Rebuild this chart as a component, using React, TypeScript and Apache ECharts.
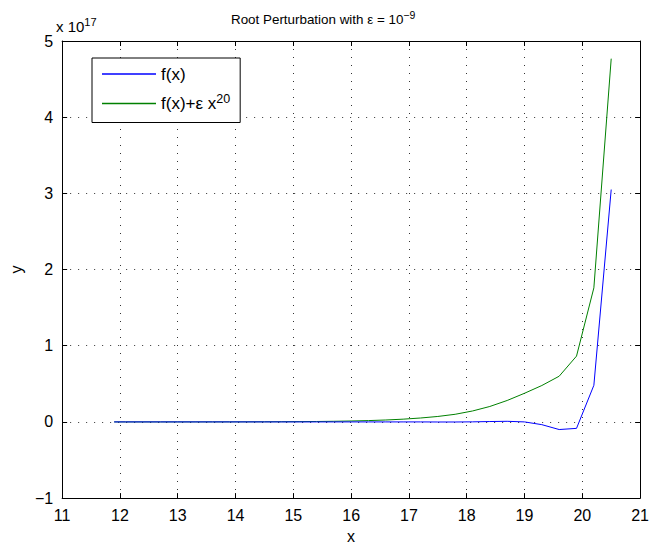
import React, { useEffect, useRef } from "react";
import * as echarts from "echarts";

// x sample points
const xValues = [
  11.9, 12.1, 12.4, 12.7, 13.0, 13.3, 13.6, 13.9, 14.2, 14.5, 14.8, 15.1, 15.4,
  15.7, 16.0, 16.3, 16.6, 16.9, 17.2, 17.5, 17.8, 18.1, 18.4, 18.7, 19.0, 19.3,
  19.6, 19.9, 20.2, 20.5,
];
// f(x), in units of 10^17
const fValues = [
  0, 0, 0, 0, 0, 0, 0, 0, 0, 0, 0, 0, 0, 0, 0, 0, 0, 0, 0, -0.0009, -0.0009,
  0.0009, 0.0049, 0.008, 0, -0.036, -0.1, -0.0846, 0.4805, 3.0502,
];
// f(x) + eps x^20, in units of 10^17
const perturbedValues = [
  0, 0, 0.0001, 0.0001, 0.0002, 0.0003, 0.0005, 0.0007, 0.0011, 0.0017, 0.0025,
  0.0038, 0.0056, 0.0083, 0.0121, 0.0175, 0.0253, 0.0361, 0.0514, 0.0717,
  0.1002, 0.1433, 0.2027, 0.2815, 0.3759, 0.478, 0.6, 0.864, 1.7599, 4.7682,
];
const seriesNames = ["f(x)", "f(x)+ε x^20"];
const xTicks = { min: 11, max: 21, interval: 1 };
const yTicks = { min: -1, max: 5, interval: 1 };

const FONT = "'Liberation Sans', Arial, Helvetica, sans-serif";

export default function App() {
  const ref = useRef<HTMLDivElement>(null);
  useEffect(() => {
    document.body.style.margin = "0";
    if (!ref.current) return;
    const chart = echarts.init(ref.current, null, { renderer: "svg" });
    const gridLine = { show: true, lineStyle: { color: "#333", width: 1, type: [1, 7] } };
    const tick = { show: true, inside: true, length: 5, lineStyle: { color: "#000" } };
    const axLine = { show: true, onZero: false, lineStyle: { color: "#000", width: 1 } };
    const minus = (v: number) => (v < 0 ? "\u2212" + Math.abs(v) : String(v));
    chart.setOption({
      animation: false,
      backgroundColor: "#fff",
      textStyle: { fontFamily: FONT },
      title: {
        text: "{a|Root Perturbation with ε = 10}{s|\u22129}",
        left: 226,
        top: 4,
        textStyle: {
          fontWeight: "normal",
          rich: {
            a: { fontSize: 13.4, fontFamily: FONT, color: "#000", fontWeight: "normal" },
            s: { fontSize: 10.5, fontFamily: FONT, color: "#000", fontWeight: "normal", padding: [0, 0, 9, 0] },
          },
        },
      },
      grid: { left: 56, right: 8, top: 41, bottom: 45, containLabel: false },
      legend: {
        left: 92,
        top: 58,
        orient: "vertical",
        icon: "rect",
        itemWidth: 54,
        itemHeight: 1.5,
        itemGap: 8,
        padding: [6, 10, 9, 10],
        borderColor: "#000",
        borderWidth: 1,
        borderRadius: 0,
        backgroundColor: "#fff",
        selectedMode: false,
        data: seriesNames,
        textStyle: {
          fontSize: 17,
          fontFamily: FONT,
          color: "#000",
          lineHeight: 20,
          rich: {
            n: { fontSize: 17, fontFamily: FONT, color: "#000", lineHeight: 20 },
            s: { fontSize: 12.5, fontFamily: FONT, color: "#000", padding: [0, 0, 10, 0] },
          },
        },
        formatter: (name: string) =>
          name === seriesNames[1] ? "{n|f(x)+ε x}{s|20}" : name,
      },
      graphic: [
        {
          type: "text",
          left: 56,
          top: 16,
          style: {
            text: "{a|x 10}{s|17}",
            rich: {
              a: { fontSize: 15, fontFamily: FONT, fill: "#000" },
              s: { fontSize: 11, fontFamily: FONT, fill: "#000", padding: [0, 0, 10, 0] },
            },
          },
        },
      ],
      xAxis: [
        {
          type: "value",
          position: "bottom",
          ...xTicks,
          name: "x",
          nameLocation: "middle",
          nameGap: 29,
          nameTextStyle: { fontSize: 16, color: "#000", fontFamily: FONT },
          axisLine: axLine,
          axisTick: tick,
          splitLine: gridLine,
          axisLabel: { color: "#000", fontSize: 16, margin: 9, fontFamily: FONT },
        },
        {
          type: "value",
          position: "top",
          ...xTicks,
          axisLine: axLine,
          axisTick: tick,
          splitLine: { show: false },
          axisLabel: { show: false },
        },
      ],
      yAxis: [
        {
          type: "value",
          position: "left",
          ...yTicks,
          name: "y",
          nameLocation: "middle",
          nameGap: 38,
          nameTextStyle: { fontSize: 16, color: "#000", fontFamily: FONT },
          axisLine: axLine,
          axisTick: tick,
          splitLine: gridLine,
          axisLabel: { color: "#000", fontSize: 16, margin: 9, fontFamily: FONT, formatter: minus },
        },
        {
          type: "value",
          position: "right",
          ...yTicks,
          axisLine: axLine,
          axisTick: tick,
          splitLine: { show: false },
          axisLabel: { show: false },
        },
      ],
      series: [
        {
          name: seriesNames[0],
          type: "line",
          data: xValues.map((x, i) => [x, fValues[i]]),
          symbol: "none",
          color: "#0000ff",
          lineStyle: { color: "#0000ff", width: 1 },
          z: 3,
        },
        {
          name: seriesNames[1],
          type: "line",
          data: xValues.map((x, i) => [x, perturbedValues[i]]),
          symbol: "none",
          color: "#008000",
          lineStyle: { color: "#008000", width: 1 },
          z: 2,
        },
      ],
    });
    return () => chart.dispose();
  }, []);
  return <div ref={ref} style={{ width: 652, height: 549 }} />;
}
